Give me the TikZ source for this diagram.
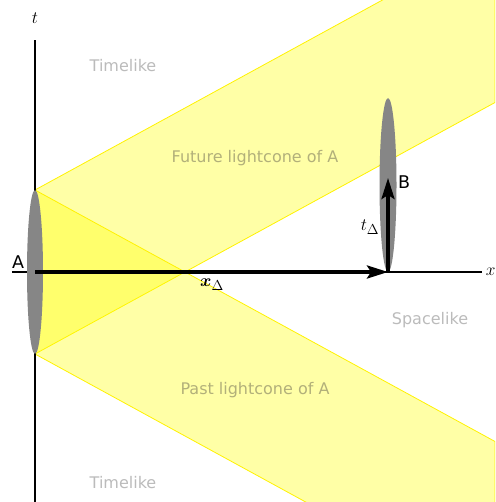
\documentclass[tikz,border=0pt]{standalone}
\usepackage{fontspec}
\setsansfont{DejaVu Sans}
\usepackage{bm}
\usetikzlibrary{arrows.meta, shapes.geometric}
\definecolor{conefill}{RGB}{255,255,0}
\definecolor{regiontext}{RGB}{187,187,187}
\definecolor{conetext}{RGB}{178,176,122}
\tikzset{
    region/.style={text=regiontext, font=\sffamily\fontsize{16}{19}\selectfont},
    conelabel/.style={text=conetext, font=\sffamily\fontsize{16}{19}\selectfont},
    eventlabel/.style={font=\sffamily\fontsize{17.5}{20}\selectfont},
    mathlabel/.style={font=\fontsize{19}{22}\selectfont},
    event/.style={fill=gray!95!white, draw=none},
    band/.style={fill=conefill, fill opacity=0.35, draw=yellow, line width=0.8pt},
}
\begin{document}
\begin{tikzpicture}[x=1pt, y=1pt, >={Stealth[length=21pt, width=13pt, inset=4pt]}]
    \useasboundingbox (-35,-230) rectangle (460,272);

    % light cones of A
    \begin{scope}
        \clip (-35,-230) rectangle (460,272);
        \draw[band] (0,82) -- (460,333.5) -- (460,169.5) -- (0,-82) -- cycle;
        \draw[band] (0,-82) -- (460,-333.5) -- (460,-169.5) -- (0,82) -- cycle;
    \end{scope}

    % axes
    \draw[line width=1.2pt] (-23,0) -- (447,0) node[right, mathlabel] (xlab) {\(x\)};
    \draw[line width=1.2pt] (0,-230) -- (0,232);
    \node[mathlabel] (tlab) at (0,254) {\(t\)};

    % events
    \node[event, ellipse, minimum width=16pt, minimum height=164pt, inner sep=0pt] (evA) at (0,0) {};
    \node[event, ellipse, minimum width=17pt, minimum height=174pt, inner sep=0pt] (evB) at (353,87) {};

    \coordinate (O) at (0,0);
    \coordinate (Bbase) at (353,0);
    \coordinate (Btip) at (353,94);
    \draw[->, line width=3.5pt] (O) -- (Bbase);
    \draw[->, line width=3.5pt] (Bbase) -- (Btip);

    % labels
    \node[eventlabel] (labA) at (-17,10) {A};
    \node[eventlabel] (labB) at (369,90) {B};
    \node[mathlabel] (labt) at (335,45) {\(t_\Delta\)};
    \node[mathlabel] (labx) at (177,-13) {\(\bm{x}_\Delta\)};

    \node[region] (tl1) at (88,206) {Timelike};
    \node[region] (tl2) at (88,-211) {Timelike};
    \node[region] (sl) at (395,-48) {Spacelike};
    \node[conelabel] (fut) at (220,114) {Future lightcone of A};
    \node[conelabel] (past) at (220,-118) {Past lightcone of A};
\end{tikzpicture}
\end{document}
